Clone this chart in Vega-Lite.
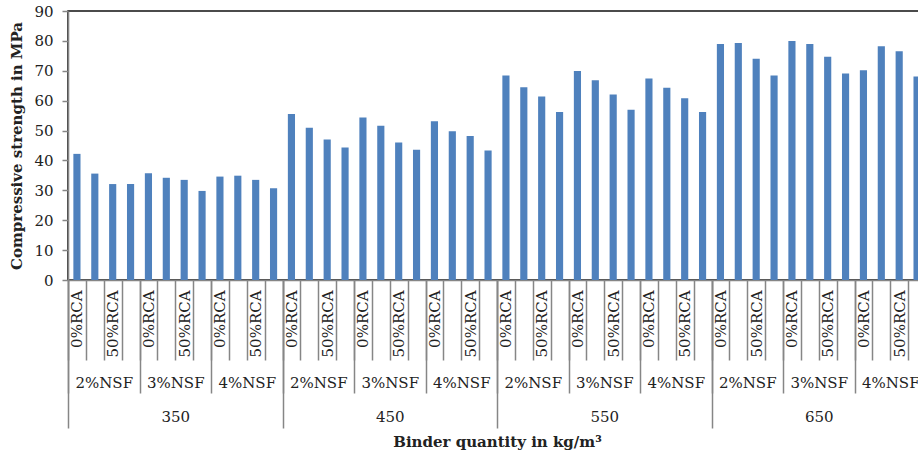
{
  "$schema": "https://vega.github.io/schema/vega-lite/v6.json",
  "width": 858,
  "height": 269,
  "autosize": "none",
  "padding": {"left": 68, "top": 11, "right": 0, "bottom": 179},
  "background": "white",
  "config": {
    "view": {"stroke": "#111111", "strokeWidth": 1.6},
    "font": "DejaVu Serif",
    "axis": {"labelFont": "DejaVu Serif", "titleFont": "DejaVu Serif", "labelColor": "#222222", "titleColor": "#222222", "domainColor": "#868686", "tickColor": "#868686", "grid": false}
  },
  "data": {"values": [
    {"b": "350", "g": "350|2%NSF", "id": "350|2%NSF|0%RCA", "v": 42.2},
    {"b": "350", "g": "350|2%NSF", "id": "350|2%NSF|25%RCA", "v": 35.6},
    {"b": "350", "g": "350|2%NSF", "id": "350|2%NSF|50%RCA", "v": 32.1},
    {"b": "350", "g": "350|2%NSF", "id": "350|2%NSF|100%RCA", "v": 32.1},
    {"b": "350", "g": "350|3%NSF", "id": "350|3%NSF|0%RCA", "v": 35.7},
    {"b": "350", "g": "350|3%NSF", "id": "350|3%NSF|25%RCA", "v": 34.2},
    {"b": "350", "g": "350|3%NSF", "id": "350|3%NSF|50%RCA", "v": 33.5},
    {"b": "350", "g": "350|3%NSF", "id": "350|3%NSF|100%RCA", "v": 29.8},
    {"b": "350", "g": "350|4%NSF", "id": "350|4%NSF|0%RCA", "v": 34.6},
    {"b": "350", "g": "350|4%NSF", "id": "350|4%NSF|25%RCA", "v": 34.9},
    {"b": "350", "g": "350|4%NSF", "id": "350|4%NSF|50%RCA", "v": 33.5},
    {"b": "350", "g": "350|4%NSF", "id": "350|4%NSF|100%RCA", "v": 30.7},
    {"b": "450", "g": "450|2%NSF", "id": "450|2%NSF|0%RCA", "v": 55.5},
    {"b": "450", "g": "450|2%NSF", "id": "450|2%NSF|25%RCA", "v": 50.9},
    {"b": "450", "g": "450|2%NSF", "id": "450|2%NSF|50%RCA", "v": 47.0},
    {"b": "450", "g": "450|2%NSF", "id": "450|2%NSF|100%RCA", "v": 44.3},
    {"b": "450", "g": "450|3%NSF", "id": "450|3%NSF|0%RCA", "v": 54.4},
    {"b": "450", "g": "450|3%NSF", "id": "450|3%NSF|25%RCA", "v": 51.6},
    {"b": "450", "g": "450|3%NSF", "id": "450|3%NSF|50%RCA", "v": 46.0},
    {"b": "450", "g": "450|3%NSF", "id": "450|3%NSF|100%RCA", "v": 43.6},
    {"b": "450", "g": "450|4%NSF", "id": "450|4%NSF|0%RCA", "v": 53.1},
    {"b": "450", "g": "450|4%NSF", "id": "450|4%NSF|25%RCA", "v": 49.8},
    {"b": "450", "g": "450|4%NSF", "id": "450|4%NSF|50%RCA", "v": 48.2},
    {"b": "450", "g": "450|4%NSF", "id": "450|4%NSF|100%RCA", "v": 43.3},
    {"b": "550", "g": "550|2%NSF", "id": "550|2%NSF|0%RCA", "v": 68.4},
    {"b": "550", "g": "550|2%NSF", "id": "550|2%NSF|25%RCA", "v": 64.5},
    {"b": "550", "g": "550|2%NSF", "id": "550|2%NSF|50%RCA", "v": 61.4},
    {"b": "550", "g": "550|2%NSF", "id": "550|2%NSF|100%RCA", "v": 56.2},
    {"b": "550", "g": "550|3%NSF", "id": "550|3%NSF|0%RCA", "v": 69.9},
    {"b": "550", "g": "550|3%NSF", "id": "550|3%NSF|25%RCA", "v": 66.8},
    {"b": "550", "g": "550|3%NSF", "id": "550|3%NSF|50%RCA", "v": 62.1},
    {"b": "550", "g": "550|3%NSF", "id": "550|3%NSF|100%RCA", "v": 57.0},
    {"b": "550", "g": "550|4%NSF", "id": "550|4%NSF|0%RCA", "v": 67.4},
    {"b": "550", "g": "550|4%NSF", "id": "550|4%NSF|25%RCA", "v": 64.3},
    {"b": "550", "g": "550|4%NSF", "id": "550|4%NSF|50%RCA", "v": 60.8},
    {"b": "550", "g": "550|4%NSF", "id": "550|4%NSF|100%RCA", "v": 56.2},
    {"b": "650", "g": "650|2%NSF", "id": "650|2%NSF|0%RCA", "v": 79.0},
    {"b": "650", "g": "650|2%NSF", "id": "650|2%NSF|25%RCA", "v": 79.3},
    {"b": "650", "g": "650|2%NSF", "id": "650|2%NSF|50%RCA", "v": 74.0},
    {"b": "650", "g": "650|2%NSF", "id": "650|2%NSF|100%RCA", "v": 68.4},
    {"b": "650", "g": "650|3%NSF", "id": "650|3%NSF|0%RCA", "v": 80.0},
    {"b": "650", "g": "650|3%NSF", "id": "650|3%NSF|25%RCA", "v": 79.0},
    {"b": "650", "g": "650|3%NSF", "id": "650|3%NSF|50%RCA", "v": 74.7},
    {"b": "650", "g": "650|3%NSF", "id": "650|3%NSF|100%RCA", "v": 69.1},
    {"b": "650", "g": "650|4%NSF", "id": "650|4%NSF|0%RCA", "v": 70.2},
    {"b": "650", "g": "650|4%NSF", "id": "650|4%NSF|25%RCA", "v": 78.2},
    {"b": "650", "g": "650|4%NSF", "id": "650|4%NSF|50%RCA", "v": 76.5},
    {"b": "650", "g": "650|4%NSF", "id": "650|4%NSF|100%RCA", "v": 68.1}
  ]},
  "layer": [
    {
      "mark": {"type": "bar", "color": "#4F81BD"},
      "encoding": {
        "x": {"field": "id", "type": "nominal", "sort": null, "scale": {"paddingInner": 0.6, "paddingOuter": 0.3}, "axis": null},
        "y": {"field": "v", "type": "quantitative", "scale": {"domain": [0, 90], "nice": false},
          "axis": {"title": "Compressive strength in MPa", "values": [0, 10, 20, 30, 40, 50, 60, 70, 80, 90], "labelOverlap": false, "tickSize": 6, "labelPadding": 9, "labelFontSize": 15, "titleFontSize": 15, "titleFontWeight": "bold", "titlePadding": 9, "domainWidth": 1.6, "tickWidth": 1.5}}
      }
    },
    {
      "mark": {"type": "point", "opacity": 0},
      "encoding": {
        "x": {"field": "id", "type": "nominal", "sort": null, "scale": {"paddingInner": 0, "paddingOuter": 0},
          "axis": {"orient": "bottom", "title": null, "tickBand": "extent", "tickSize": 80, "tickWidth": 1.5, "domainWidth": 1.6, "labelAngle": -90, "labelPadding": -70, "labelFontSize": 15, "labelOverlap": false,
            "labelExpr": "(split(datum.value, '|')[2] == '0%RCA' || split(datum.value, '|')[2] == '50%RCA') ? split(datum.value, '|')[2] : ''"}}
      }
    },
    {
      "mark": {"type": "point", "opacity": 0},
      "encoding": {
        "x": {"field": "g", "type": "nominal", "sort": null, "scale": {"paddingInner": 0, "paddingOuter": 0},
          "axis": {"orient": "bottom", "title": null, "domain": false, "tickBand": "extent", "tickSize": 113, "tickWidth": 1.5, "labelAngle": 0, "labelPadding": -18, "labelFontSize": 15, "labelOverlap": false,
            "labelExpr": "split(datum.value, '|')[1]"}}
      }
    },
    {
      "mark": {"type": "point", "opacity": 0},
      "encoding": {
        "x": {"field": "b", "type": "nominal", "sort": null, "scale": {"paddingInner": 0, "paddingOuter": 0},
          "axis": {"orient": "bottom", "title": "Binder quantity in kg/m³", "domain": false, "tickBand": "extent", "tickSize": 148, "tickWidth": 1.5, "labelAngle": 0, "labelPadding": -19, "labelFontSize": 15, "labelOverlap": false,
            "titleFontSize": 15, "titleFontWeight": "bold", "titleY": 154, "titleBaseline": "top"}}
      }
    }
  ],
  "resolve": {"scale": {"x": "independent"}, "axis": {"x": "independent"}}
}
